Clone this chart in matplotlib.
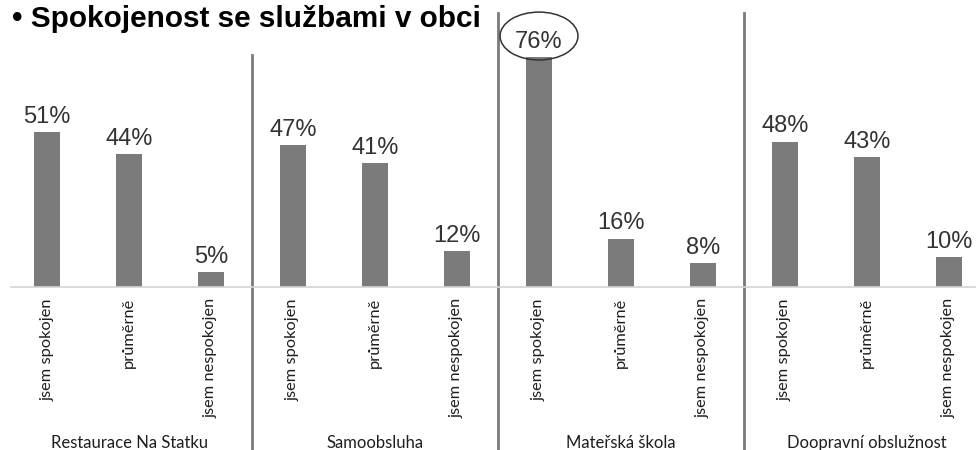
#!/usr/bin/env python3
"""Spokojenost se službami v obci - grouped satisfaction bars."""

import matplotlib

matplotlib.use("Agg")

import matplotlib.pyplot as plt
import numpy as np
from matplotlib.patches import Ellipse


services = ["Restaurace Na Statku", "Samoobsluha", "Mateřská škola", "Doopravní obslužnost"]
answers = ["jsem spokojen", "průměrně", "jsem nespokojen"]
restaurace = [51, 44, 5]
samoobsluha = [47, 41, 12]
skolka = [76, 16, 8]
doprava = [48, 43, 10]
highlight = (2, 0)  # Mateřská škola / jsem spokojen gets circled

BAR = "#7b7b7b"
TEXT = "#1e1e1e"
LABEL_FONT = ["Lato", "DejaVu Sans"]
VALUE_FONT = ["Liberation Sans", "DejaVu Sans"]

groups = [restaurace, samoobsluha, skolka, doprava]
values = np.array(groups).ravel()
n_ans = len(answers)
x = np.arange(len(values))

fig = plt.figure(figsize=(9.76, 4.5), dpi=100)
ax = fig.add_axes([11 / 976, 163 / 450, 965 / 976, 274 / 450])

ax.bar(x, values, width=0.32, color=BAR, zorder=2)
ax.set_xlim(-0.44, len(values) - 0.67)
ax.set_ylim(0, 90.4)

for xi, v in zip(x, values):
    ax.annotate(f"{v}%", (xi, v), xytext=(0, 6.5), textcoords="offset points",
                ha="center", va="baseline", fontsize=17, color="#333333",
                family=VALUE_FONT)

# circle around the highlighted value
hi = highlight[0] * n_ans + highlight[1]
ax.add_patch(Ellipse((x[hi], values[hi] + 6.8), 0.95, 15.8, fill=False,
                     edgecolor="#333333", linewidth=1.1, clip_on=False, zorder=3))

ax.set_xticks(x, answers * len(services), rotation=90, fontsize=11.8,
              family=LABEL_FONT, color=TEXT)
ax.tick_params(axis="x", length=0, pad=8)
ax.set_yticks([])
for side in ["left", "right", "top"]:
    ax.spines[side].set_visible(False)
ax.spines["bottom"].set_color("#d4d4d4")
ax.spines["bottom"].set_linewidth(1.2)

# separators between services
for g in range(1, len(services)):
    top = 0.847 if g == 1 else 1.0
    ax.axvline(g * n_ans - 0.5, ymin=-0.595, ymax=top, color="#7a7a7a",
               linewidth=2, clip_on=False, zorder=1)

# service names under each group
for g, name in enumerate(services):
    ax.text(g * n_ans + 1, -0.57, name, transform=ax.get_xaxis_transform(),
            ha="center", va="center", fontsize=12, color=TEXT, family=LABEL_FONT)

fig.text(12 / 976, 1 - 19 / 450, "\u2022 Spokojenost se službami v obci",
         ha="left", va="center", fontsize=21.4, fontweight="bold", color="black",
         family=VALUE_FONT)

fig.savefig("out.png", dpi=100, facecolor="white")
plt.close(fig)
